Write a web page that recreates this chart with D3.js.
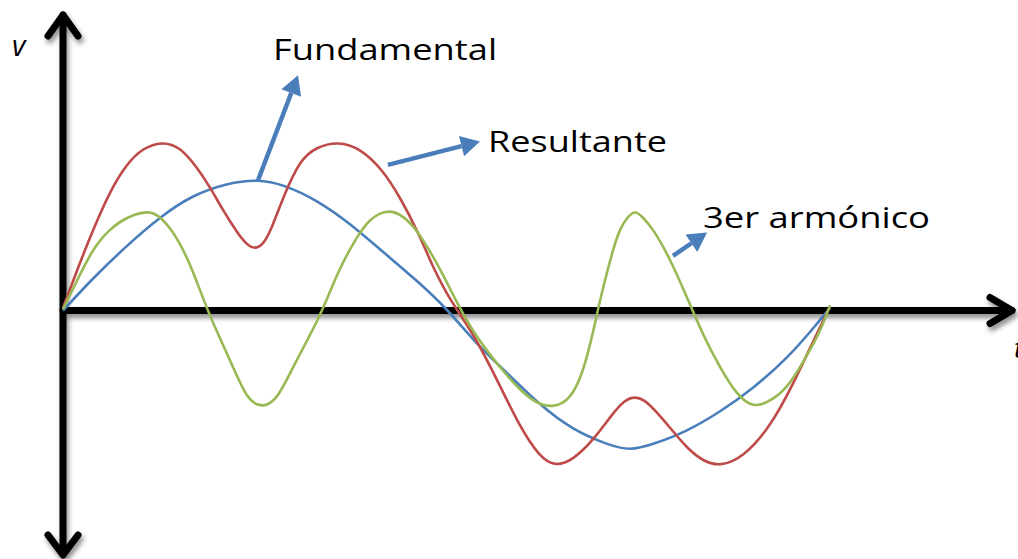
<!DOCTYPE html>
<html>

<head>
    <title>Armonicos</title>
    <script src="https://cdn.jsdelivr.net/npm/d3@7"></script>
    <style>
        body { margin: 0; background: #fff; }
    </style>
</head>

<body>
    <svg width="1018" height="559" id="mainsvg"></svg>
    <script>
        // angle in degrees (one period of the fundamental) and voltage (fundamental peak = 1)
        const fundT = [0, 14.1, 30, 45.5, 61, 77, 91.5, 103.3, 119.2, 134.7, 150.2, 166.2, 181, 192.4, 208.4, 223.9, 239.4, 255.3, 266.1, 276.9, 292.9, 308.4, 323.9, 339.8, 352, 360];
        const fundV = [0, 0.25, 0.50, 0.72, 0.89, 0.98, 1.01, 0.97, 0.85, 0.67, 0.45, 0.23, 0, -0.23, -0.48, -0.73, -0.92, -1.03, -1.08, -1.03, -0.93, -0.78, -0.60, -0.37, -0.14, 0.02];

        const resT = [0, 8, 14.1, 22.1, 30, 37.5, 46.5, 54.9, 62.9, 69, 75.1, 81.7, 86, 90.1, 94, 97.2, 103.3, 111.2, 119.2, 129.1, 139.4, 150.2, 158.2, 166.2, 173.7, 181.6, 192.4, 203.7, 214.5, 223.9, 230.9, 239.4, 248.8, 258.1, 263.5, 268.5, 273, 276.9, 284.9, 292.9, 300.5, 308.4, 319.2, 331.8, 342.6, 352, 360];
        const resV = [0.02, 0.37, 0.62, 0.92, 1.13, 1.25, 1.30, 1.26, 1.10, 0.95, 0.77, 0.60, 0.51, 0.47, 0.51, 0.60, 0.87, 1.16, 1.26, 1.30, 1.25, 1.08, 0.87, 0.62, 0.33, 0.08, -0.17, -0.53, -0.90, -1.13, -1.20, -1.15, -1.00, -0.79, -0.69, -0.66, -0.69, -0.75, -0.90, -1.06, -1.16, -1.20, -1.13, -0.90, -0.57, -0.24, 0.03];

        const harmT = [0, 6.6, 14.1, 22.1, 30, 39.9, 45.5, 53.5, 61, 68.1, 79.8, 86.5, 93.4, 100.5, 108, 121.6, 128.6, 138, 144.1, 152.5, 159.6, 166.2, 175.5, 184.9, 192.4, 208.4, 220.6, 230, 238, 244.1, 248.8, 252, 258.1, 261.4, 265, 268.5, 272, 276.9, 284.9, 292.9, 300.4, 308.4, 316.3, 323.9, 331.8, 339.8, 347.3, 355.3, 360];
        const harmV = [0.01, 0.23, 0.48, 0.63, 0.72, 0.77, 0.73, 0.57, 0.31, -0.02, -0.43, -0.69, -0.75, -0.69, -0.43, -0.02, 0.29, 0.57, 0.71, 0.78, 0.73, 0.62, 0.37, 0.06, -0.17, -0.51, -0.71, -0.75, -0.69, -0.48, -0.17, 0.08, 0.47, 0.63, 0.72, 0.77, 0.72, 0.63, 0.40, 0.10, -0.19, -0.44, -0.65, -0.75, -0.70, -0.60, -0.40, -0.17, 0.04];

        // labels with arrows: [from t, from v, tip t, tip v]
        const labelNames = ['Fundamental', 'Resultante', '3er armónico'];
        const labelArrows = [
            [91.5, 1.00, 110.3, 1.81],
            [152.5, 1.12, 195.7, 1.30],
            [286.3, 0.42, 302.3, 0.60]
        ];
        const labelPos = [[98.6, 1.93], [199.5, 1.22], [300.4, 0.635]];
        const labelWidths = [224, 179, 227];

        const svg = d3.select('#mainsvg');
        const xScale = d3.scaleLinear().domain([0, 360]).range([63, 830]);
        const yScale = d3.scaleLinear().domain([-1, 1]).range([440.5, 180.5]);

        const defs = svg.append('defs');
        const shadow = defs.append('filter').attr('id', 'shadow')
            .attr('x', '-20%').attr('y', '-20%').attr('width', '140%').attr('height', '140%');
        shadow.append('feDropShadow')
            .attr('dx', 2).attr('dy', 4).attr('stdDeviation', 2.5)
            .attr('flood-color', '#000').attr('flood-opacity', 0.45);

        // axes, drawn as thick arrows through the origin
        const x0 = xScale(0), y0 = yScale(0);
        const axes = svg.append('g').attr('filter', 'url(#shadow)')
            .attr('stroke', '#000').attr('stroke-width', 7)
            .attr('fill', 'none')
            .attr('stroke-linecap', 'round').attr('stroke-linejoin', 'round');
        axes.append('line').attr('x1', x0).attr('y1', 15).attr('x2', x0).attr('y2', 554);
        axes.append('polyline').attr('points', `${x0 - 15},36 ${x0},15 ${x0 + 15},36`);
        axes.append('polyline').attr('points', `${x0 - 15},535 ${x0},555 ${x0 + 15},535`);
        axes.append('line').attr('x1', x0).attr('y1', y0).attr('x2', 1012).attr('y2', y0);
        axes.append('polyline').attr('points', `990,${y0 - 13} 1012,${y0} 990,${y0 + 13}`);

        svg.append('text').attr('x', 12).attr('y', 56)
            .attr('font-family', 'Open Sans').attr('font-style', 'italic')
            .attr('font-size', 29).attr('fill', '#000').text('v');
        svg.append('text').attr('x', 1014).attr('y', 358)
            .attr('font-family', 'Open Sans').attr('font-style', 'italic')
            .attr('font-size', 28).attr('fill', '#000').text('t');

        const line = d3.line()
            .x(d => xScale(d[0]))
            .y(d => yScale(d[1]))
            .curve(d3.curveBasis);

        const series = [
            { name: 'fundamental', t: fundT, v: fundV, color: '#4a7ebb' },
            { name: 'resultante', t: resT, v: resV, color: '#be4b48' },
            { name: 'armonico', t: harmT, v: harmV, color: '#98b954' }
        ];
        svg.append('g').selectAll('path').data(series).join('path')
            .attr('d', s => line(s.t.map((t, i) => [t, s.v[i]])))
            .attr('fill', 'none')
            .attr('stroke', s => s.color)
            .attr('stroke-width', 2.6);

        // annotation arrows
        const ag = svg.append('g');
        labelArrows.forEach(a => {
            const x1 = xScale(a[0]), y1 = yScale(a[1]);
            const x2 = xScale(a[2]), y2 = yScale(a[3]);
            const ang = Math.atan2(y2 - y1, x2 - x1);
            const len = 19, hw = 10.5;
            const bx = x2 - len * Math.cos(ang), by = y2 - len * Math.sin(ang);
            ag.append('line')
                .attr('x1', x1).attr('y1', y1).attr('x2', bx).attr('y2', by)
                .attr('stroke', '#4a7ebb').attr('stroke-width', 4.5);
            ag.append('polygon')
                .attr('points', [
                    [x2, y2],
                    [bx + hw * Math.sin(ang), by - hw * Math.cos(ang)],
                    [bx - hw * Math.sin(ang), by + hw * Math.cos(ang)]
                ].map(p => p.join(',')).join(' '))
                .attr('fill', '#4a7ebb');
        });

        svg.append('g').selectAll('text').data(labelNames).join('text')
            .attr('x', (d, i) => xScale(labelPos[i][0]))
            .attr('y', (d, i) => yScale(labelPos[i][1]))
            .attr('font-family', 'Open Sans')
            .attr('font-size', 29.5)
            .attr('fill', '#000')
            .attr('textLength', (d, i) => labelWidths[i])
            .attr('lengthAdjust', 'spacingAndGlyphs')
            .text(d => d);
    </script>
</body>

</html>
